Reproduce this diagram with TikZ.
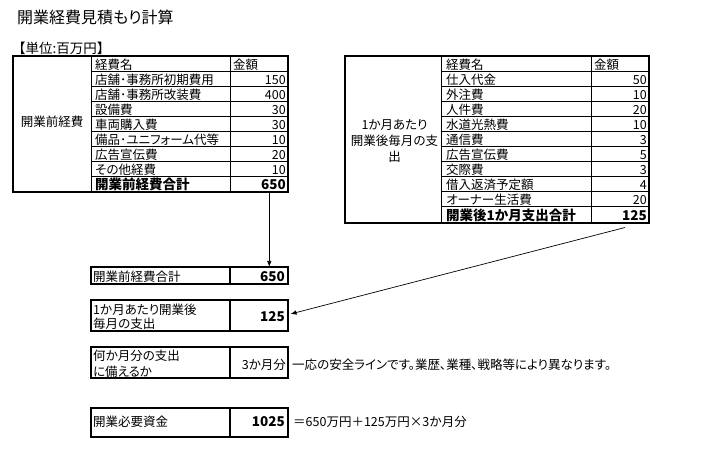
\documentclass[tikz,border=0pt]{standalone}
\usepackage{fontspec}
\setmainfont{Noto Sans CJK JP}[RawFeature={+palt}]
\newfontfamily\fwfont{Noto Sans CJK JP}
\usetikzlibrary{arrows.meta}
\begin{document}
\begin{tikzpicture}[x=1bp,y=-1bp,
  thickline/.style={line width=1.8bp},
  thinline/.style={line width=0.9bp},
  txt/.style={inner sep=0pt, font=\fontsize{12.5bp}{15bp}\selectfont},
  lt/.style={txt, anchor=base west},
  rt/.style={txt, anchor=base east},
  ctr/.style={txt, anchor=base},
  blt/.style={lt, font=\fontsize{13.5bp}{15bp}\selectfont\bfseries},
  brt/.style={rt, font=\fontsize{13.5bp}{15bp}\selectfont\bfseries},
  arr/.style={line width=0.7bp, -{Latex[length=6bp,width=4.5bp]}}]
\useasboundingbox[fill=white] (0,0) rectangle (710,459);

% title
\node[lt, font=\fontsize{16bp}{18bp}\selectfont] (title) at (17,24) {開業経費見積もり計算};
\node[lt, font=\fontsize{13.5bp}{15bp}\fwfont] (unit) at (12,53.8) {【単位:百万円】};

% ---------- left table ----------
\foreach \y in {71.7,86.7,101.7,116.7,131.7,146.7,161.7,176.7}
  \draw[thinline] (91,\y) -- (288.3,\y);
\draw[thinline] (91,55.7) -- (91,191.7);
\draw[thinline] (230.7,55.7) -- (230.7,191.7);
\draw[thickline] (13,55.7) rectangle (288.3,191.7);
\node[ctr] (ltlabel) at (52,127) {開業前経費};
\node[lt] (lth1) at (95,69.7) {経費名};
\node[lt] (lth2) at (233,69.7) {金額};
\foreach \n/\a [count=\i] in {店舗･事務所初期費用/150,店舗･事務所改装費/400,設備費/30,車両購入費/30,備品･ユニフォーム代等/10,広告宣伝費/20,その他経費/10}{
  \node[lt] (ln\i) at (95,{69.7+15*\i}) {\n};
  \node[rt] (la\i) at (286,{69.7+15*\i}) {\a};
}
\node[blt] (lnt) at (95,189.7) {開業前経費合計};
\node[brt] (lat) at (286,189.7) {650};

% ---------- right table ----------
\foreach \y in {71.7,86.7,101.7,116.7,131.7,146.7,161.7,176.7,191.7,206.7}
  \draw[thinline] (441.7,\y) -- (649.3,\y);
\draw[thinline] (441.7,55.7) -- (441.7,222.7);
\draw[thinline] (591.7,55.7) -- (591.7,222.7);
\draw[thickline] (345,55.7) rectangle (649.3,222.7);
\node[ctr] (rtl1) at (394.5,130) {1か月あたり};
\node[ctr] (rtl2) at (394.5,146) {開業後毎月の支};
\node[ctr] (rtl3) at (394.5,162) {出};
\node[lt] (rth1) at (446,69.7) {経費名};
\node[lt] (rth2) at (594,69.7) {金額};
\foreach \n/\a [count=\i] in {仕入代金/50,外注費/10,人件費/20,水道光熱費/10,通信費/3,広告宣伝費/5,交際費/3,借入返済予定額/4,オーナー生活費/20}{
  \node[lt] (rn\i) at (446,{69.7+15*\i}) {\n};
  \node[rt] (ra\i) at (647,{69.7+15*\i}) {\a};
}
\node[blt] (rnt) at (446,220.7) {開業後1か月支出合計};
\node[brt] (rat) at (647,220.7) {125};

% ---------- lower boxes ----------
\draw[thickline] (91,267.3) rectangle (288.3,284);
\draw[thickline] (230,267.3) -- (230,284);
\node[lt] (b1n) at (93,282) {開業前経費合計};
\node[brt] (b1v) at (285,282) {650};

\draw[thickline] (91,300) rectangle (288.3,330.7);
\draw[thickline] (230,300) -- (230,330.7);
\node[lt] (b2n1) at (93,314.5) {1か月あたり開業後};
\node[lt] (b2n2) at (93,328.5) {毎月の支出};
\node[brt] (b2v) at (285,321.5) {125};

\draw[thickline] (91,346.7) rectangle (288.3,377.7);
\draw[thickline] (230,346.7) -- (230,377.7);
\node[lt] (b3n1) at (93,360) {何か月分の支出};
\node[lt] (b3n2) at (93,376) {に備えるか};
\node[rt] (b3v) at (286,369.5) {3か月分};
\node[lt] (c3) at (292,369.5) {一応の安全ラインです。業歴、業種、戦略等により異なります。};

\draw[thickline] (91,408.3) rectangle (288.3,436.7);
\draw[thickline] (230,408.3) -- (230,436.7);
\node[lt] (b4n) at (93,426) {開業必要資金};
\node[brt] (b4v) at (285,426) {1025};
\node[lt, font=\fontsize{12.5bp}{15bp}\fwfont] (c4) at (293,426) {＝650万円＋125万円×3か月分};

% ---------- arrows ----------
\coordinate (ltbot) at (269.3,192.6);
\coordinate (b1top) at (269.3,267);
\coordinate (rtbot) at (625,227.5);
\coordinate (b2right) at (290.5,314);
\draw[arr] (ltbot) -- (b1top);
\draw[arr] (rtbot) -- (b2right);
\end{tikzpicture}
\end{document}
